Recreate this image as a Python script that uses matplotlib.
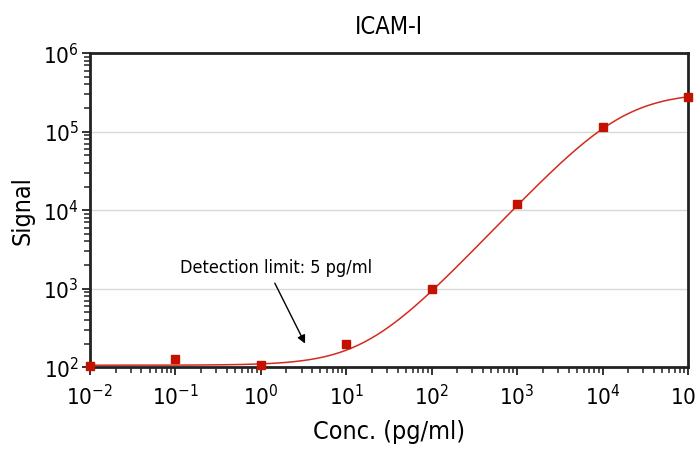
import numpy as np
import matplotlib
matplotlib.use('Agg')
import matplotlib.pyplot as plt
from matplotlib.ticker import LogLocator, LogFormatterSciNotation, NullFormatter

# measured points
conc = [1e-2, 1e-1, 1e0, 1e1, 1e2, 1e3, 1e4, 1e5]
signal = [104, 126, 106, 197, 1000, 12000, 115000, 275000]

# 4PL fit parameters (bottom, top, ec50, hill slope)
fit_bottom = 106
fit_top = 315000
fit_ec50 = 17500
fit_hill = 1.15

title = 'ICAM-I'
annot_text = 'Detection limit: 5 pg/ml'

plt.rcParams['font.family'] = ['DejaVu Sans']
plt.rcParams['font.stretch'] = 'condensed'
plt.rcParams['mathtext.fontset'] = 'custom'
plt.rcParams['mathtext.rm'] = 'DejaVu Sans:stretch=condensed'
plt.rcParams['mathtext.it'] = 'DejaVu Sans:stretch=condensed'

fig = plt.figure(figsize=(6.97, 4.5), dpi=100)
ax = fig.add_axes([0.129, 0.184, 0.858, 0.698])

xs = np.logspace(-2, 5, 400)
fit = fit_top + (fit_bottom - fit_top) / (1 + (xs / fit_ec50) ** fit_hill)
ax.plot(xs, fit, color='#d42a1e', linewidth=1.1, zorder=3)
ax.plot(conc, signal, 's', color='#c41200', markersize=6, zorder=4, clip_on=False)

ax.set_xscale('log')
ax.set_yscale('log')
ax.set_xlim(1e-2, 1e5)
ax.set_ylim(1e2, 1e6)

ax.yaxis.grid(True, which='major', color='#d9d9d9', linewidth=1)
ax.set_axisbelow(True)

for loc_ax in (ax.xaxis, ax.yaxis):
    loc_ax.set_major_locator(LogLocator(base=10, numticks=20))
    loc_ax.set_minor_locator(LogLocator(base=10, subs=np.arange(2, 10), numticks=100))
    loc_ax.set_major_formatter(LogFormatterSciNotation())
    loc_ax.set_minor_formatter(NullFormatter())

ax.tick_params(which='major', direction='out', length=6, width=1.3, labelsize=16, color='#222222')
ax.tick_params(which='minor', direction='out', length=4, width=1.1, color='#222222')
ax.tick_params(axis='x', pad=6)
ax.tick_params(axis='y', pad=2)
for s in ax.spines.values():
    s.set_linewidth(2)
    s.set_color('#222222')

ax.set_title(title, fontsize=17, pad=14)
ax.set_xlabel('Conc. (pg/ml)', fontsize=18, labelpad=8)
ax.set_ylabel('Signal', fontsize=18, labelpad=6)

ax.text(1.5, 1820, annot_text, fontsize=13, ha='center', va='center')
ax.annotate('', xy=(3.3, 200), xytext=(1.46, 1175),
            arrowprops=dict(arrowstyle='-|>', color='black', lw=1, shrinkA=0, shrinkB=0,
                            mutation_scale=12))

fig.savefig('out.png', dpi=100)
